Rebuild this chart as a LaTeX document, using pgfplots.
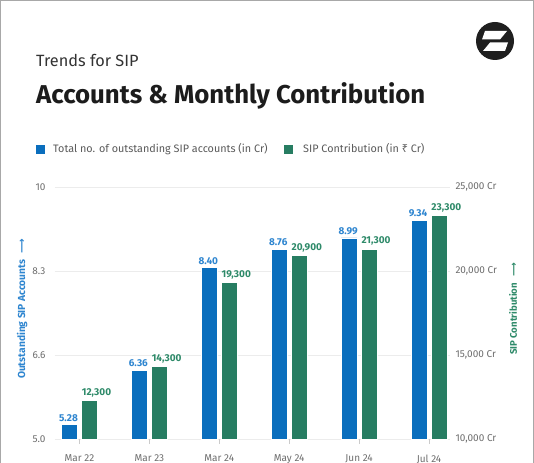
\documentclass[border=0pt]{standalone}
\usepackage{fontspec}
\setmainfont{Fira Sans}
\newfontfamily\rupeefont{Noto Sans}
\newfontfamily\arrowfont{DejaVu Sans}
\usepackage{pgfplots}
\pgfplotsset{compat=1.18}
\definecolor{barblue}{HTML}{0A6EBD}
\definecolor{bargreen}{HTML}{277D62}
\definecolor{lblblue}{HTML}{2F86D0}
\definecolor{lblgreen}{HTML}{2E8A69}
\definecolor{tickgray}{HTML}{6E6E6E}
\definecolor{gridgray}{HTML}{ECECEC}
\definecolor{legendgray}{HTML}{5A5A5A}
\definecolor{framegray}{HTML}{A8A8A8}
\definecolor{titleblack}{HTML}{1C1C1C}
\begin{document}
\begin{tikzpicture}
\useasboundingbox (0,0) rectangle (534pt,-462pt);
\fill[white] (0,0) rectangle (534pt,-462pt);
\draw[framegray, line width=1.4pt] (0.7pt,-470pt) -- (0.7pt,-0.7pt) -- (533.3pt,-0.7pt) -- (533.3pt,-470pt);
% logo
\fill[black!88] (495pt,-41pt) circle (19pt);
\fill[white] (485pt,-31pt) -- (507pt,-31pt) -- (500pt,-39.5pt) -- (482pt,-39.5pt) -- cycle;
\fill[white] (490pt,-42.5pt) -- (508pt,-42.5pt) -- (505pt,-51pt) -- (483pt,-51pt) -- cycle;
% titles
\node[anchor=base west, inner sep=0pt, text=black!80] at (36pt,-66.7pt) {\fontsize{16.3}{20}\selectfont Trends for SIP};
\node[anchor=base west, inner sep=0pt, text=titleblack] at (36pt,-104pt) {\fontsize{25.8}{30}\selectfont\bfseries Accounts \& Monthly Contribution};
% legend
\fill[barblue] (36pt,-145pt) rectangle (45pt,-154pt);
\node[anchor=base west, inner sep=0pt, text=legendgray] at (53pt,-153pt) {\fontsize{10.8}{13}\selectfont Total no. of outstanding SIP accounts (in Cr)};
\fill[bargreen] (284pt,-145pt) rectangle (293pt,-154pt);
\node[anchor=base west, inner sep=0pt, text=legendgray] at (303pt,-153pt) {\fontsize{10.8}{13}\selectfont SIP Contribution (in {\rupeefont ₹} Cr)};
% axis labels
\node[rotate=90, text=lblblue, inner sep=0pt] at (22pt,-309pt) {\fontsize{10.2}{12}\selectfont\bfseries Outstanding SIP Accounts\hspace{6pt}{\arrowfont ⟶}};
\node[rotate=90, text=lblgreen, inner sep=0pt] at (513pt,-309pt) {\fontsize{9.6}{12}\selectfont\bfseries SIP Contribution\hspace{6pt}{\arrowfont ⟶}};
\begin{axis}[
  at={(55pt,-439pt)}, anchor=south west,
  scale only axis, width=395pt, height=252pt,
  xmin=-0.35, xmax=5.3, ymin=5, ymax=10,
  xtick={0,1,2,3,4,5},
  xticklabels={Mar 22,Mar 23,Mar 24,May 24,Jun 24,Jul 24},
  ytick={5,6.6667,8.3333,10}, yticklabels={5.0,6.6,8.3,10},
  axis line style={draw=none},
  xtick pos=bottom, ytick pos=left,
  ymajorgrids, grid style={color=gridgray, line width=0.7pt},
  ytick style={draw=none},
  xtick style={draw=gridgray!70!gray, line width=0.7pt},
  tick align=outside, major tick length=5pt,
  ticklabel style={font=\fontsize{10}{12}\selectfont, text=tickgray},
  /pgf/number format/assume math mode=true,
  xticklabel style={yshift=-7pt},
  yticklabel style={xshift=-1pt},
]
\addplot[ybar, bar width=16pt, bar shift=-10pt, fill=barblue, draw=white, line width=0.8pt,
  nodes near coords={\pgfmathprintnumber[fixed,fixed zerofill,precision=2,assume math mode=true]{\pgfplotspointmeta}},
  nodes near coords style={font=\fontsize{10}{12}\selectfont\bfseries, text=lblblue, anchor=south, inner sep=2pt, yshift=1pt, xshift=-11pt}]
  coordinates {(0,5.28) (1,6.36) (2,8.40) (3,8.76) (4,8.99) (5,9.34)};
\end{axis}
\begin{axis}[
  at={(55pt,-439pt)}, anchor=south west,
  scale only axis, width=395pt, height=252pt,
  xmin=-0.35, xmax=5.3, ymin=10000, ymax=25000,
  xtick=\empty,
  ytick={10000,15000,20000,25000},
  yticklabels={{10,000 Cr},{15,000 Cr},{20,000 Cr},{25,000 Cr}},
  scaled y ticks=false,
  axis line style={draw=none},
  ytick pos=right, yticklabel pos=right,
  ytick style={draw=none},
  ticklabel style={font=\fontsize{10}{12}\selectfont, text=tickgray},
  /pgf/number format/assume math mode=true,
  yticklabel style={xshift=2pt},
]
\addplot[ybar, bar width=16pt, bar shift=10pt, fill=bargreen, draw=white, line width=0.8pt,
  nodes near coords={\pgfmathprintnumber[fixed,precision=0,1000 sep={,},assume math mode=true]{\pgfplotspointmeta}},
  nodes near coords style={font=\fontsize{10}{12}\selectfont\bfseries, text=lblgreen, anchor=south west, xshift=1pt, inner sep=1pt, yshift=2pt}]
  coordinates {(0,12300) (1,14300) (2,19300) (3,20900) (4,21300) (5,23300)};
\end{axis}
\end{tikzpicture}
\end{document}
